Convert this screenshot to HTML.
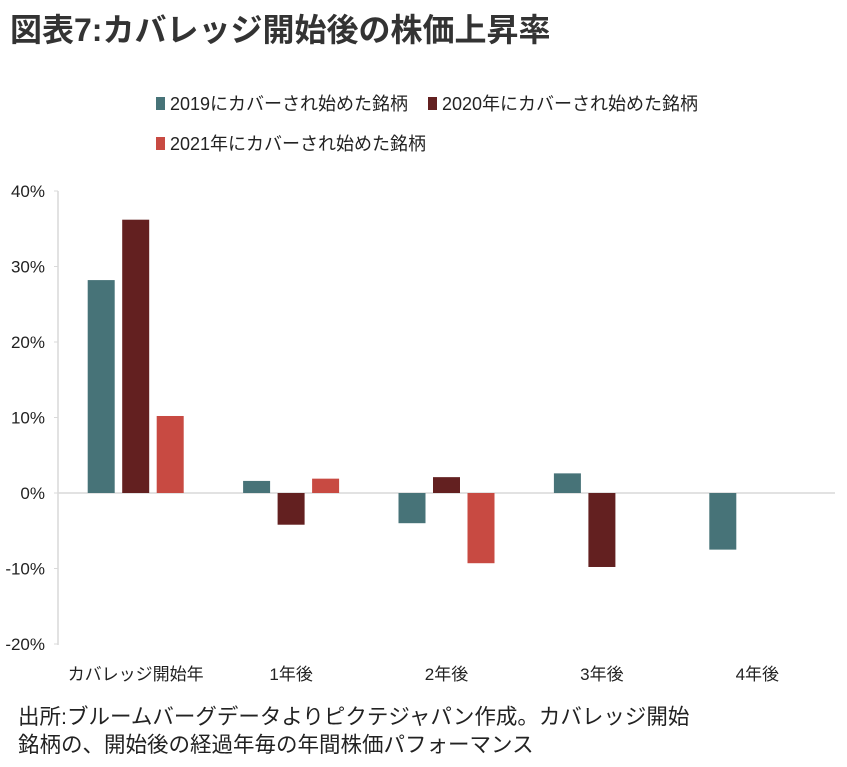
<!DOCTYPE html>
<html><head><meta charset="utf-8"><style>
body{margin:0;background:#fff;width:847px;height:767px;overflow:hidden;font-family:"Liberation Sans","Noto Sans CJK JP",sans-serif;color:#222}
</style></head><body>
<svg width="847" height="767" style="position:absolute;left:0;top:0">
<text x="10" y="41" font-size="32" font-weight="bold" fill="#333">図表7:カバレッジ開始後の株価上昇率</text>
<g id="legend" font-size="18" fill="#222"></g>
<g id="plot"></g>
<text x="18" y="724" font-size="21.5" fill="#222">出所:ブルームバーグデータよりピクテジャパン作成。カバレッジ開始</text>
<text x="18" y="752" font-size="21.5" fill="#222">銘柄の、開始後の経過年毎の年間株価パフォーマンス</text>
</svg>
<script>
const categories=["カバレッジ開始年","1年後","2年後","3年後","4年後"];
const seriesNames=["2019にカバーされ始めた銘柄","2020年にカバーされ始めた銘柄","2021年にカバーされ始めた銘柄"];
const s2019=[28.2,1.6,-4.0,2.6,-7.5];
const s2020=[36.2,-4.2,2.1,-9.8,null];
const s2021=[10.2,1.9,-9.3,null,null];
const yTicks=[40,30,20,10,0,-10,-20];
const colors=["#477378","#632020","#c84a42"];
const NS="http://www.w3.org/2000/svg";
const x0=58,x1=835,yTop=191,yZero=493,yBottom=645;
function y(v){return yZero-(v/10)*((yZero-yTop)/4);}
const bw=(x1-x0)/categories.length;
function gx(i){return x0+bw*i;}
function mk(t,a,p){const e=document.createElementNS(NS,t);for(const k in a)e.setAttribute(k,a[k]);p.appendChild(e);return e;}
const plot=document.getElementById('plot');
let ax=mk('line',{x1:x0,x2:x0,y1:yTop,y2:yBottom,stroke:'#d9d9d9','stroke-width':1.5},plot);


yTicks.forEach(v=>{
  const t=mk('text',{x:45,y:y(v)+6,'font-size':17,'text-anchor':'end',fill:'#222'},plot);
  t.textContent=v+'%';
  
  
  const tk=mk('line',{x1:x0-4,x2:x0,y1:y(v),y2:y(v),stroke:'#d9d9d9'},plot);
  
  
});
const xl=mk('line',{x1:x0,x2:x1,y1:yZero,y2:yZero,stroke:'#d9d9d9','stroke-width':1.5},plot);


const series=[s2019,s2020,s2021];
const barW=27,gap=7.5;
categories.forEach((c,i)=>{
  const cx=gx(i)+bw/2;
  series.forEach((s,j)=>{
    const v=s[i]; if(v===null)return;
    const bx=cx+(j-1)*(barW+gap)-barW/2;
    const r=mk('rect',{x:bx,y:Math.min(y(v),yZero),width:barW,height:Math.abs(y(v)-yZero),fill:colors[j]},plot);
    
    
  });
  const t=mk('text',{x:cx,y:680,'font-size':17,'text-anchor':'middle',fill:'#222'},plot);
  t.textContent=c;
  
  
});
const lg=document.getElementById('legend');
const lpos=[[156,110],[428,110],[156,150]];
seriesNames.forEach((n,j)=>{
  const r=mk('rect',{x:lpos[j][0],y:lpos[j][1]-13,width:9,height:13,fill:colors[j]},lg);
  
  
  const t=mk('text',{x:lpos[j][0]+14,y:lpos[j][1]},lg);
  t.textContent=n;
  
  
});
</script>
</body></html>
